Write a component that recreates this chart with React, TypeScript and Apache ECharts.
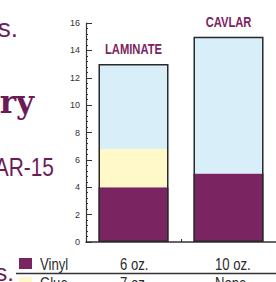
import React, { useEffect, useRef } from "react";
import * as echarts from "echarts";

// Data
const categories = ["LAMINATE", "CAVLAR"];
const vinyl = [4, 5];
const glue = [2.8, 0];
const backing = [6.2, 10];
const yTicks = { min: 0, max: 16, interval: 2 };
const legendRow1 = ["Vinyl", "6 oz.", "10 oz."];
const legendRow2 = ["Glue", "7 oz.", "None"];
const sideTexts = ["s.", "ry", "AR-15", "s."];

const PURPLE = "#7b2462";
const TEXT_PURPLE = "#6d1b57";
const YELLOW = "#fff8c8";
const BLUE = "#d8eef9";
const SANS = "'Liberation Sans', Arial, sans-serif";
const NARROW_SCALE = 0.82;

export default function App() {
  const ref = useRef<HTMLDivElement>(null);
  useEffect(() => {
    if (!ref.current) return;
    const chart = echarts.init(ref.current, null, { renderer: "svg" });
    const totals = categories.map((_, i) => vinyl[i] + glue[i] + backing[i]);
    const narrowText = (text: string, x: number, y: number, font: string, fill: string, align: string) => ({
      type: "text",
      x,
      y,
      scaleX: NARROW_SCALE,
      silent: true,
      style: { text, font, fill, textAlign: align, textVerticalAlign: "middle" },
    });
    const rowText = (row: string[], y: number) =>
      row.map((t, i) => narrowText(t, [40, 120, 215][i], y, `16px ${SANS}`, "#2a2a2a", "left"));
    const baseGraphic = [
      { type: "text", x: 18, y: 28, silent: true, style: { text: sideTexts[0], font: `26px ${SANS}`, fill: TEXT_PURPLE, textAlign: "right", textVerticalAlign: "middle" } },
      { type: "text", x: 34, y: 102, silent: true, style: { text: sideTexts[1], font: `bold 31px 'DejaVu Serif', serif`, fill: TEXT_PURPLE, textAlign: "right", textVerticalAlign: "middle" } },
      narrowText(sideTexts[2], 54, 167, `25.5px ${SANS}`, TEXT_PURPLE, "right"),
      { type: "text", x: 14, y: 272, silent: true, style: { text: sideTexts[3], font: `24px ${SANS}`, fill: TEXT_PURPLE, textAlign: "right", textVerticalAlign: "middle" } },
      { type: "rect", silent: true, shape: { x: 19, y: 258, width: 13, height: 11 }, style: { fill: PURPLE } },
      { type: "rect", silent: true, shape: { x: 19, y: 277, width: 13, height: 11 }, style: { fill: YELLOW } },
      { type: "line", silent: true, shape: { x1: 16, y1: 273.5, x2: 276, y2: 273.5 }, style: { stroke: "#333", lineWidth: 1.5 } },
      ...rowText(legendRow1, 264.4),
      ...rowText(legendRow2, 283.4),
    ];
    chart.setOption({
      animation: false,
      grid: { left: 86, right: -2, top: 23, bottom: 40, containLabel: false },
      xAxis: {
        type: "category",
        data: categories,
        axisLabel: { show: false },
        axisTick: { show: true, inside: true, length: 3, alignWithLabel: false, lineStyle: { color: "#333" } },
        axisLine: { lineStyle: { color: "#333", width: 1.5 } },
        splitLine: { show: false },
      },
      yAxis: {
        type: "value",
        min: yTicks.min,
        max: yTicks.max,
        interval: yTicks.interval,
        axisLine: { show: true, lineStyle: { color: "#333", width: 1.2 } },
        axisTick: { show: true, inside: true, length: 6, lineStyle: { color: "#333" } },
        minorTick: { show: true, splitNumber: 5, length: 2, lineStyle: { color: "#333" } },
        axisLabel: { color: "#333", fontSize: 9, fontFamily: SANS, margin: 6 },
        splitLine: { show: false },
      },
      series: [
        { name: "Vinyl", type: "bar", stack: "t", data: vinyl, barWidth: 70, itemStyle: { color: PURPLE }, silent: true },
        { name: "Glue", type: "bar", stack: "t", data: glue, barWidth: 70, itemStyle: { color: YELLOW }, silent: true },
        { name: "Backing", type: "bar", stack: "t", data: backing, barWidth: 70, itemStyle: { color: BLUE }, silent: true },
        {
          name: "Total",
          type: "bar",
          data: totals,
          barWidth: 70,
          barGap: "-100%",
          silent: true,
          itemStyle: { color: "rgba(0,0,0,0)", borderColor: "#2a2a2a", borderWidth: 1.5 },
        },
      ],
      graphic: baseGraphic,
    });
    // Category titles placed above each bar via the chart's own scales
    const titles = categories.map((c, i) => {
      const [px, py] = chart.convertToPixel({ gridIndex: 0 }, [c, totals[i]]) as number[];
      return {
        type: "text",
        x: px,
        y: py - 14.5,
        scaleX: 0.8,
        silent: true,
        style: {
          text: c,
          font: `bold 14px ${SANS}`,
          fill: PURPLE,
          textAlign: "center",
          textVerticalAlign: "middle",
        },
      };
    });
    chart.setOption({ graphic: [...baseGraphic, ...titles] }, { replaceMerge: ["graphic"] });
    return () => chart.dispose();
  }, []);
  return (
    <div
      ref={ref}
      style={{ position: "fixed", left: 0, top: 0, width: 276, height: 282, background: "#fff" }}
    />
  );
}
